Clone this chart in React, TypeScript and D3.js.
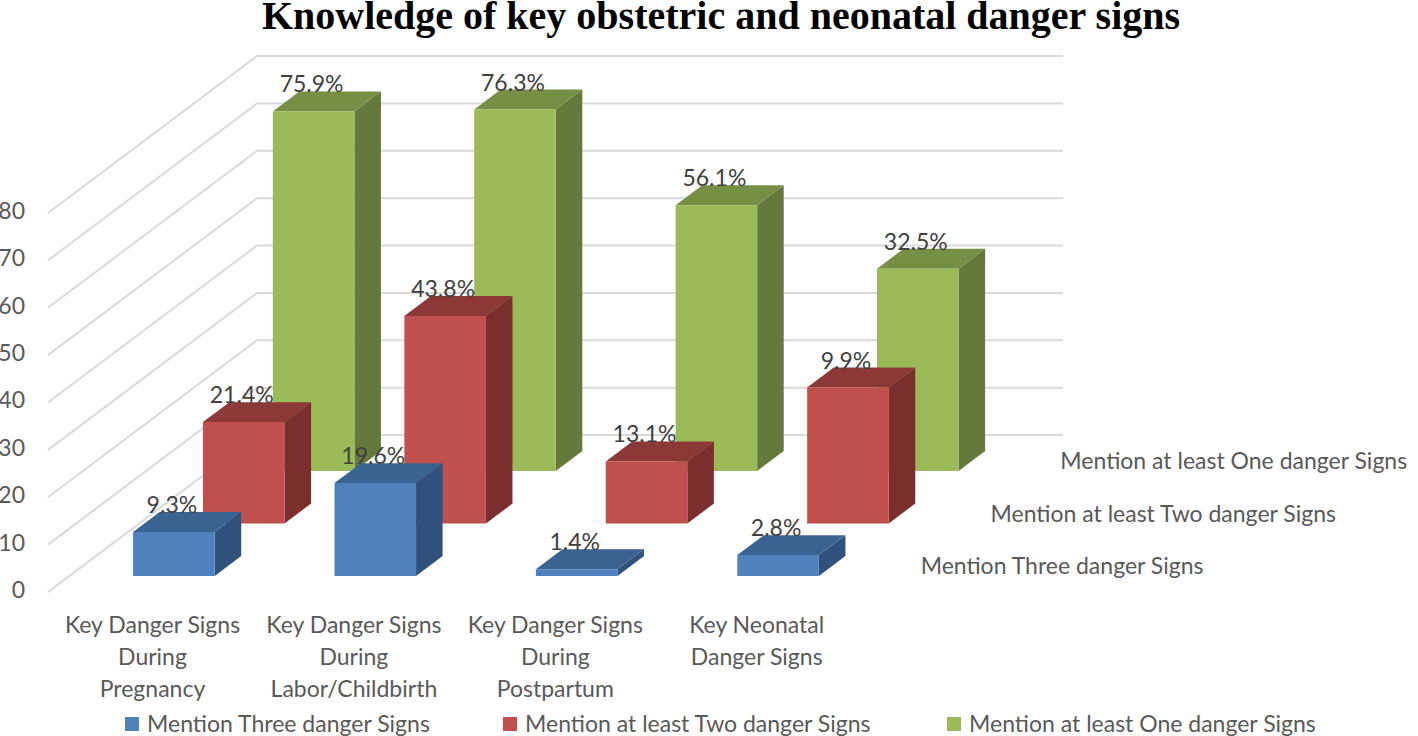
import React, { useEffect, useRef } from "react";
import * as d3 from "d3";

const categories = [
  ["Key Danger Signs", "During", "Pregnancy"],
  ["Key Danger Signs", "During", "Labor/Childbirth"],
  ["Key Danger Signs", "During", "Postpartum"],
  ["Key Neonatal", "Danger Signs"],
];
const categoryIds = ["pregnancy", "labor", "postpartum", "neonatal"];
const seriesNames = [
  "Mention Three danger Signs",
  "Mention at least Two danger Signs",
  "Mention at least One danger Signs",
];
// bar heights as drawn in the picture, the last group does not follow its labels
const threeSigns = [9.3, 19.6, 1.4, 4.4];
const twoSigns = [21.4, 43.8, 13.1, 28.7];
const oneSign = [75.9, 76.3, 56.1, 42.7];
const threeLabels = ["9.3%", "19.6%", "1.4%", "2.8%"];
const twoLabels = ["21.4%", "43.8%", "13.1%", "9.9%"];
const oneLabels = ["75.9%", "76.3%", "56.1%", "32.5%"];
const yTicks = [0, 10, 20, 30, 40, 50, 60, 70, 80];

const seriesValues = [threeSigns, twoSigns, oneSign];
const seriesLabels = [threeLabels, twoLabels, oneLabels];
const colors = [
  { front: "#4f81bd", top: "#3b6391", side: "#30517b" },
  { front: "#c0504d", top: "#8c3836", side: "#7b2e2e" },
  { front: "#9bbb59", top: "#778f45", side: "#64793b" },
];
const legendX = [125, 503, 947];

const FONT = "Lato, 'Noto Sans', sans-serif";

export default function App() {
  const svgRef = useRef<SVGSVGElement>(null);

  useEffect(() => {
    const svg = d3.select(svgRef.current);
    svg.selectAll("*").remove();

    const floorY = 592;
    const left = 48;
    const frontRight = 854;
    const depth = 157; // vertical rise of the floor
    const skew = 209 / 157; // x shift per px of rise

    const x = d3
      .scaleBand()
      .domain(categoryIds)
      .range([left, frontRight])
      .paddingInner(0.595)
      .paddingOuter(0.2985)
      .align(0.53);

    const z = d3
      .scaleBand()
      .domain(seriesNames)
      .range([0, depth])
      .paddingInner(0.62)
      .paddingOuter(0.306);

    const h = d3.scaleLinear().domain([0, 80]).range([0, 379]);
    const yFront = d3.scaleLinear().domain([0, 80]).range([floorY, floorY - 379]);

    const line = d3.line();
    const poly = (pts: [number, number][]) => line(pts) + "Z";
    // value height v, depth d in px, x position px on the front plane
    const project = (px: number, v: number, d: number): [number, number] => [
      px + d * skew,
      floorY - h(v) - d,
    ];

    svg
      .append("text")
      .attr("x", 721)
      .attr("y", 29)
      .attr("text-anchor", "middle")
      .attr("font-family", "'Liberation Serif', serif")
      .attr("font-weight", "bold")
      .attr("font-size", 40)
      .attr("fill", "#000")
      .text("Knowledge of key obstetric and neonatal danger signs");

    // gridlines, floor edge then back wall
    const grid = svg.append("g").attr("fill", "none").attr("stroke", "#d9d9d9").attr("stroke-width", 2);
    yTicks.forEach((t) => {
      grid
        .append("path")
        .attr(
          "d",
          line([project(left, t, 0), project(left, t, depth), project(frontRight, t, depth)])
        );
    });

    const yAxis = svg
      .append("g")
      .attr("transform", "translate(32,-2)")
      .call(d3.axisLeft(yFront).tickValues(yTicks).tickSize(0).tickPadding(7));
    yAxis.select(".domain").remove();
    yAxis
      .selectAll("text")
      .attr("font-family", FONT)
      .attr("font-size", 23)
      .attr("fill", "#595959");

    // bars, back series first
    const bars = svg.append("g");
    d3.range(seriesNames.length - 1, -1, -1).forEach((s) => {
      const d0 = z(seriesNames[s])!;
      const d1 = d0 + z.bandwidth();
      const c = colors[s];
      categoryIds.forEach((id, i) => {
        const v = seriesValues[s][i];
        const x0 = x(id)!;
        const x1 = x0 + x.bandwidth();
        const g = bars.append("g");
        g.append("path")
          .attr("d", poly([project(x1, 0, d0), project(x1, 0, d1), project(x1, v, d1), project(x1, v, d0)]))
          .attr("fill", c.side);
        g.append("path")
          .attr("d", poly([project(x0, v, d0), project(x0, v, d1), project(x1, v, d1), project(x1, v, d0)]))
          .attr("fill", c.top);
        g.append("path")
          .attr("d", poly([project(x0, 0, d0), project(x1, 0, d0), project(x1, v, d0), project(x0, v, d0)]))
          .attr("fill", c.front);
      });
    });

    // data labels
    const labels = svg
      .append("g")
      .attr("font-family", FONT)
      .attr("font-size", 23)
      .attr("fill", "#404040")
      .attr("text-anchor", "middle");
    seriesNames.forEach((name, s) => {
      const d0 = z(name)!;
      categoryIds.forEach((id, i) => {
        const [px, py] = project(x(id)! + x.bandwidth() / 2, seriesValues[s][i], d0);
        labels.append("text").attr("x", px - 2).attr("y", py - 19).text(seriesLabels[s][i]);
      });
    });

    // series names along the depth axis
    seriesNames.forEach((name) => {
      const d0 = z(name)! + z.bandwidth() / 2;
      const [px, py] = project(frontRight, 0, d0);
      svg
        .append("text")
        .attr("x", px + 32)
        .attr("y", py + 8)
        .attr("font-family", FONT)
        .attr("font-size", 23)
        .attr("fill", "#595959")
        .text(name);
    });

    // category labels
    categoryIds.forEach((id, i) => {
      const cx = x(id)! + x.bandwidth() / 2;
      categories[i].forEach((txt, k) => {
        svg
          .append("text")
          .attr("x", cx)
          .attr("y", 633 + k * 32)
          .attr("text-anchor", "middle")
          .attr("font-family", FONT)
          .attr("font-size", 23)
          .attr("fill", "#595959")
          .text(txt);
      });
    });

    // legend
    seriesNames.forEach((name, s) => {
      const g = svg.append("g").attr("transform", `translate(${legendX[s]},717)`);
      g.append("rect").attr("width", 14).attr("height", 14).attr("fill", colors[s].front);
      g.append("text")
        .attr("x", 22)
        .attr("y", 15)
        .attr("font-family", FONT)
        .attr("font-size", 23)
        .attr("fill", "#595959")
        .text(name);
    });
  }, []);

  return (
    <svg
      ref={svgRef}
      width={1418}
      height={736}
      style={{ position: "absolute", left: 0, top: 0, background: "#fff" }}
    />
  );
}
